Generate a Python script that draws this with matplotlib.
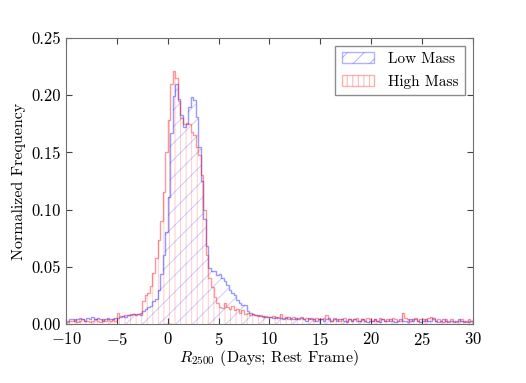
import numpy as np
import matplotlib
matplotlib.use("Agg")
import matplotlib.pyplot as plt

plt.rcParams.update({
    "font.family": "serif",
    "font.serif": ["cmr10"],
    "mathtext.fontset": "cm",
    "axes.formatter.use_mathtext": True,
    "hatch.linewidth": 0.7,
})

# bin edges of the histograms (days, rest frame)
bin_lo, bin_hi, bin_w = -10.0, 30.0, 0.25

# normalized frequency per 0.25-day bin, -10 -> 30
low_mass = [
    # -10 .. -5
    0.003, 0.004, 0.004, 0.003, 0.004, 0.005, 0.004, 0.003, 0.005, 0.004,
    0.006, 0.004, 0.005, 0.004, 0.003, 0.004, 0.005, 0.004, 0.004, 0.005,
    # -5 .. -3
    0.005, 0.006, 0.007, 0.006, 0.008, 0.008, 0.009, 0.008,
    # -3 .. 0
    0.009, 0.008, 0.011, 0.013, 0.015, 0.016, 0.020, 0.022, 0.030, 0.044, 0.060, 0.080,
    # 0 .. 4
    0.111, 0.167, 0.199, 0.210, 0.197, 0.183, 0.172, 0.175,
    0.190, 0.198, 0.196, 0.181, 0.155, 0.125, 0.092, 0.068,
    # 4 .. 10
    0.049, 0.046, 0.046, 0.043, 0.044, 0.040, 0.038, 0.034, 0.030, 0.027, 0.025, 0.021,
    0.018, 0.017, 0.017, 0.011, 0.010, 0.009, 0.008, 0.008, 0.007, 0.007, 0.006, 0.006,
    # 10 .. 15
    0.006, 0.005, 0.006, 0.005, 0.005, 0.004, 0.005, 0.006, 0.004, 0.004,
    0.005, 0.004, 0.005, 0.004, 0.003, 0.005, 0.004, 0.004, 0.003, 0.004,
    # 15 .. 20
    0.004, 0.003, 0.004, 0.005, 0.003, 0.004, 0.003, 0.004, 0.004, 0.003,
    0.002, 0.004, 0.003, 0.004, 0.003, 0.003, 0.004, 0.003, 0.002, 0.003,
    # 20 .. 25
    0.003, 0.004, 0.003, 0.002, 0.004, 0.003, 0.003, 0.004, 0.003, 0.002,
    0.003, 0.004, 0.003, 0.003, 0.002, 0.004, 0.003, 0.004, 0.003, 0.002,
    # 25 .. 30
    0.003, 0.004, 0.003, 0.003, 0.005, 0.003, 0.002, 0.003, 0.004, 0.003,
    0.002, 0.003, 0.002, 0.003, 0.004, 0.003, 0.002, 0.003, 0.002, 0.003,
]

high_mass = [
    # -10 .. -5
    0.002, 0.003, 0.003, 0.004, 0.002, 0.003, 0.004, 0.003, 0.003, 0.002,
    0.003, 0.004, 0.003, 0.002, 0.004, 0.003, 0.004, 0.003, 0.004, 0.003,
    # -5 .. -3
    0.010, 0.007, 0.007, 0.008, 0.008, 0.009, 0.009, 0.009,
    # -3 .. 0
    0.009, 0.010, 0.020, 0.025, 0.027, 0.033, 0.045, 0.058, 0.073, 0.090, 0.115, 0.150,
    # 0 .. 4
    0.178, 0.210, 0.221, 0.215, 0.195, 0.180, 0.175, 0.176,
    0.175, 0.168, 0.165, 0.155, 0.148, 0.130, 0.100, 0.060,
    # 4 .. 10
    0.040, 0.032, 0.024, 0.018, 0.015, 0.014, 0.018, 0.015, 0.013, 0.016, 0.012, 0.013,
    0.010, 0.012, 0.009, 0.010, 0.008, 0.009, 0.008, 0.007, 0.008, 0.006, 0.007, 0.006,
    # 10 .. 15
    0.006, 0.007, 0.005, 0.006, 0.009, 0.005, 0.006, 0.004, 0.005, 0.006,
    0.004, 0.005, 0.006, 0.004, 0.005, 0.004, 0.005, 0.003, 0.005, 0.004,
    # 15 .. 20
    0.004, 0.005, 0.008, 0.004, 0.003, 0.005, 0.004, 0.003, 0.004, 0.005,
    0.003, 0.004, 0.003, 0.004, 0.005, 0.003, 0.004, 0.003, 0.005, 0.004,
    # 20 .. 25
    0.003, 0.004, 0.003, 0.005, 0.004, 0.003, 0.004, 0.003, 0.005, 0.004,
    0.003, 0.003, 0.010, 0.005, 0.004, 0.003, 0.004, 0.005, 0.003, 0.004,
    # 25 .. 30
    0.004, 0.003, 0.005, 0.006, 0.004, 0.003, 0.004, 0.003, 0.002, 0.004,
    0.003, 0.004, 0.003, 0.002, 0.003, 0.004, 0.003, 0.002, 0.004, 0.003,
]

edges = np.arange(bin_lo, bin_hi + bin_w / 2, bin_w)
centers = edges[:-1] + bin_w / 2

fig = plt.figure(figsize=(5.26, 3.83), dpi=100)
ax = fig.add_axes([0.1255, 0.154, 0.7735, 0.747])

series = [
    (low_mass, "blue", "//", "Low Mass"),
    (high_mass, "red", "|||", "High Mass"),
]
for vals, col, hatch, name in series:
    # faint hatching underneath, slightly stronger outline on top
    ax.hist(centers, bins=edges, weights=vals, histtype="stepfilled",
            facecolor="none", edgecolor=col, alpha=0.2, hatch=hatch, lw=0)
    ax.hist(centers, bins=edges, weights=vals, histtype="step",
            color=col, alpha=0.4, lw=1.0)
    ax.bar(0, 0, color="none", edgecolor=col, alpha=0.3, hatch=hatch,
           lw=1.0, label=name)

ax.set_xlim(-10, 30)
ax.set_ylim(0, 0.25)
ax.set_xticks(np.arange(-10, 31, 5))
ax.set_yticks(np.arange(0, 0.251, 0.05))
ax.yaxis.set_major_formatter(matplotlib.ticker.FormatStrFormatter("%.2f"))
ax.tick_params(direction="in", top=True, right=True, length=4, labelsize=12,
               color="#444444")
ax.tick_params(axis="x", pad=5)
for sp in ax.spines.values():
    sp.set_edgecolor("#707070")

ax.set_xlabel(r"$R_{2500}$ (Days; Rest Frame)", fontsize=11.5, labelpad=0)
ax.set_ylabel("Normalized Frequency", fontsize=11.5, labelpad=4)

leg = ax.legend(loc="upper right", fontsize=11, fancybox=False,
                edgecolor="#707070", handlelength=2.1, borderpad=0.45,
                labelspacing=0.55, handletextpad=0.9)
leg.get_frame().set_linewidth(1.0)

fig.savefig("out.png", dpi=100, facecolor="white")
